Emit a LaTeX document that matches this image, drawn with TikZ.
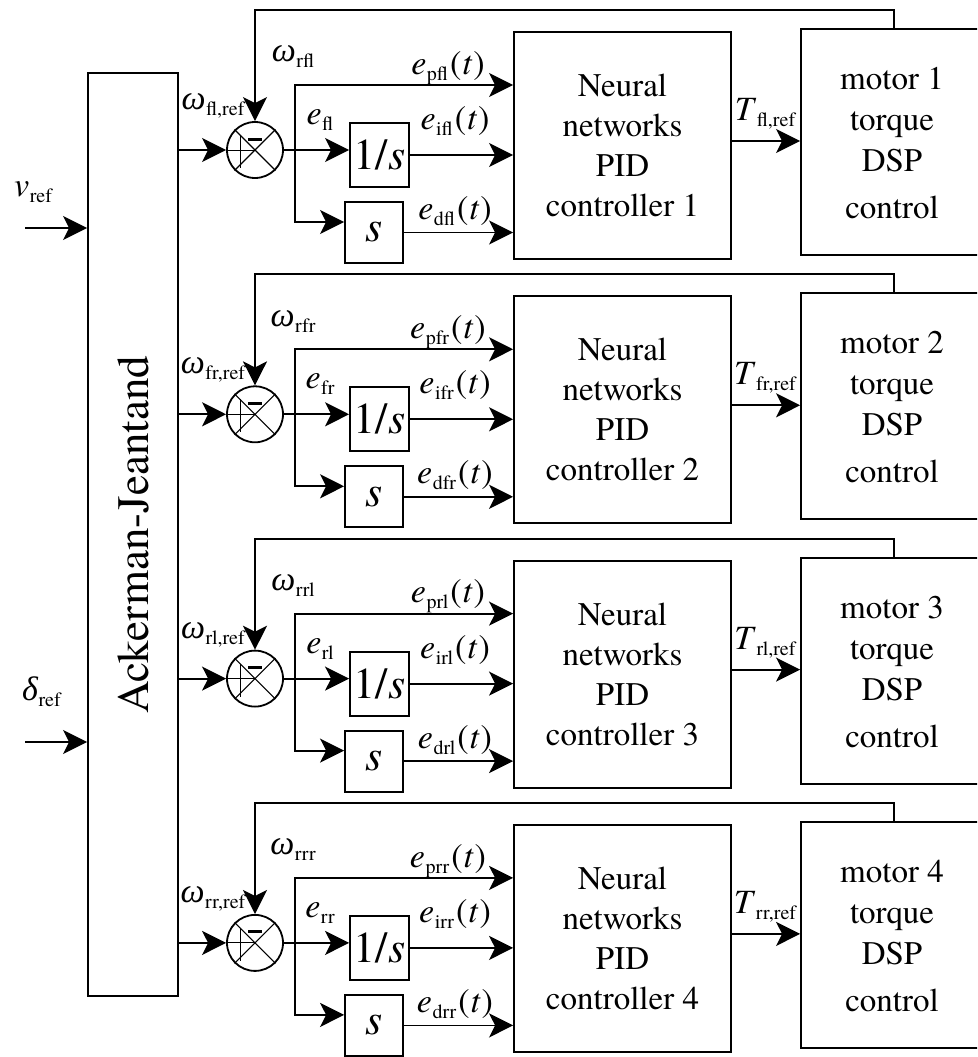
\documentclass[tikz,border=0pt]{standalone}
\usepackage{fontspec}
\setmainfont{texgyretermes-regular.otf}[ItalicFont=texgyretermes-italic.otf,BoldFont=texgyretermes-bold.otf]
\newfontfamily\grk{Liberation Serif}
\usetikzlibrary{arrows.meta}
\newcommand{\subx}[1]{\raisebox{-6pt}{\fontsize{20}{20}\selectfont #1}}
\newcommand{\lbl}[2]{\textit{#1}\kern0.5pt\subx{#2}}
\newcommand{\targ}{\kern2pt(\kern1pt\textit{t}\kern1pt)}
\tikzset{
  ln/.style={line width=1.8pt},
  arr/.style={ln,-{Stealth[length=24pt,width=24pt,inset=6pt]}},
  blk/.style={draw,line width=1.8pt,inner sep=0pt},
  lab/.style={inner sep=0pt,font=\fontsize{34}{36}\selectfont},
}
\begin{document}
\begin{tikzpicture}[x=1pt,y=-1pt]
\clip (0,0) rectangle (977,1057);
\fill[white] (0,0) rectangle (977,1057);
\node[blk,minimum width=90pt,minimum height=923pt] (ack) at (133,534.5) {};
\node[rotate=90,inner sep=0pt,font=\fontsize{45}{45}\selectfont] (ackt) at (ack.center) {Ackerman-Jeantand};
% external inputs
\coordinate (vin) at (25,228);
\coordinate (din) at (25,742);
\draw[arr] (vin) -- (vin -| ack.west);
\draw[arr] (din) -- (din -| ack.west);
\node[lab,anchor=west] (vlab) at (14,192) {\lbl{v}{ref}};
\node[lab,anchor=west] (dlab) at (22,692) {{\grk\itshape δ}\kern0.5pt\subx{ref}};
\foreach \i/\s/\n in {0/fl/1,1/fr/2,2/rl/3,3/rr/4}{
  \pgfmathsetmacro{\yy}{150+264.3*\i}
  \node[draw,circle,ln,minimum size=56pt,inner sep=0pt] (sum\n) at (255,\yy) {};
  \draw[line width=1.1pt] (sum\n.45) -- (sum\n.225) (sum\n.135) -- (sum\n.315);
  \draw[line width=3pt] ([xshift=-7pt,yshift=11pt]sum\n.center) -- ([xshift=7pt,yshift=11pt]sum\n.center);
  \draw[line width=1pt] ([xshift=-15pt,yshift=15pt]sum\n.center) -- ([xshift=-15pt,yshift=-18pt]sum\n.center)
        (sum\n.west) -- (sum\n.center);
  \node[blk,minimum width=199pt,minimum height=226pt] (mot\n) at (900.5,\yy-8) {};
  \node[font=\fontsize{33}{41}\selectfont,align=center,inner sep=0pt] (motT\n) at (892,\yy-7) {motor \n\\torque\\DSP\\[6pt]control};
  \node[blk,minimum width=217pt,minimum height=227pt,align=center,font=\fontsize{33}{40}\selectfont] (nn\n) at (622.5,\yy-4.5) {Neural\\networks\\PID\\controller \n};
  \node[blk,minimum width=59pt,minimum height=64pt,font=\fontsize{44}{44}\selectfont] (int\n) at (379.5,\yy+5) {1/\textit{s}};
  \node[blk,minimum width=58pt,minimum height=61pt,font=\fontsize{44}{44}\selectfont] (der\n) at (374,\yy+82.5) {\textit{s}};
  \coordinate (br\n) at (295,\yy);
  \coordinate (fb\n) at (894,\yy-140);
  % connectors
  \draw[arr] (ack.east |- sum\n.west) -- (sum\n.west);
  \draw[arr] (fb\n |- mot\n.north) -- (fb\n) -| (sum\n.north);
  \draw[ln] (sum\n.east) -- (br\n);
  \draw[arr] (br\n) -- (int\n.west |- br\n);
  \draw[arr] (br\n) |- ([yshift=60.5pt]nn\n.west);
  \draw[arr] (int\n.east) -- (int\n.east -| nn\n.west);
  \draw[arr] (br\n) |- ([yshift=10.5pt]der\n.west);
  \draw[arr] (der\n.east) -- (der\n.east -| nn\n.west);
  \draw[arr] ([yshift=4.5pt]nn\n.east) -- ([yshift=4.5pt]nn\n.east -| mot\n.west);
  % labels
  \node[lab] (wref\n) at (213,\yy-44) {{\grk\itshape ω}\kern0.5pt\subx{\s,ref}};
  \node[lab] (wr\n) at (293,\yy-93) {{\grk\itshape ω}\kern0.5pt\subx{r\s}};
  \node[lab] (ee\n) at (320,\yy-30) {\lbl{e}{\s}};
  \node[lab] (ep\n) at (448,\yy-82) {\lbl{e}{p\s}\targ};
  \node[lab] (ei\n) at (455,\yy-29) {\lbl{e}{i\s}\targ};
  \node[lab] (ed\n) at (455,\yy+61) {\lbl{e}{d\s}\targ};
  \node[lab] (T\n) at (765,\yy-36) {\lbl{T}{\s,ref}};
}
\end{tikzpicture}
\end{document}
